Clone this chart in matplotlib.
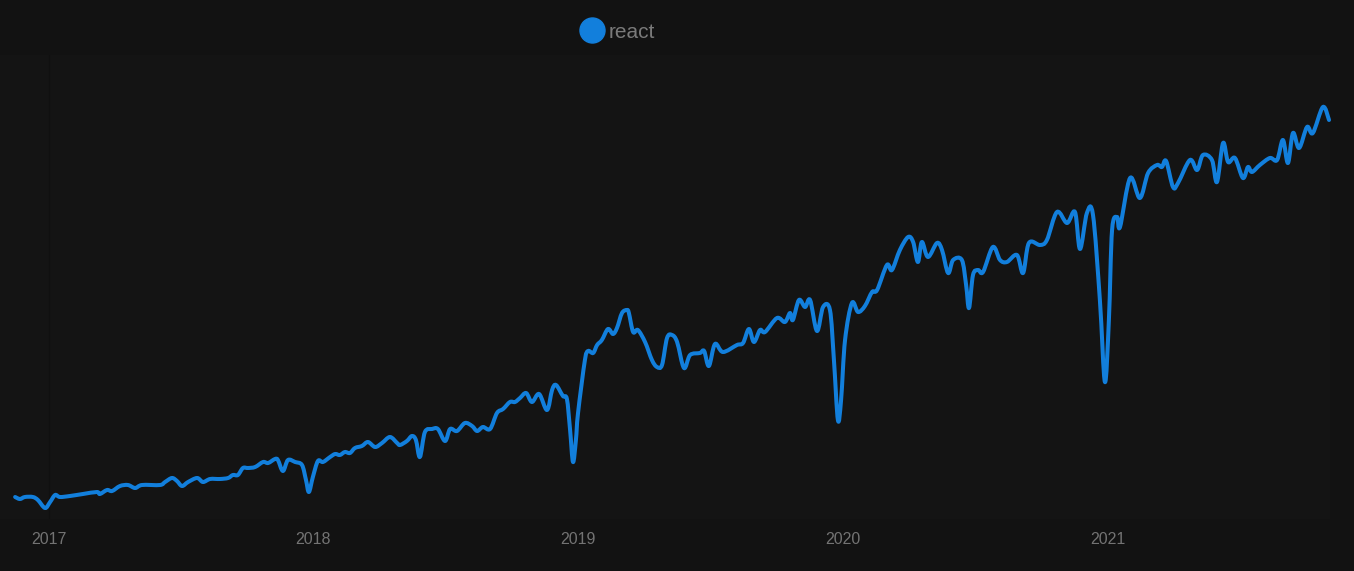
import matplotlib
matplotlib.use("Agg")
import matplotlib.pyplot as plt
import numpy as np
from matplotlib.lines import Line2D
from matplotlib.path import Path
from matplotlib.patches import PathPatch

plt.rcParams['font.family'] = ['Liberation Sans', 'DejaVu Sans']

# --- data (decimal year, weekly downloads in millions) ---
series_name = "react"
years = [
    2016.874, 2016.892, 2016.911, 2016.941, 2016.960, 2016.987, 2017.006, 2017.025, 2017.043, 2017.081,
    2017.130, 2017.183, 2017.194, 2017.221, 2017.240, 2017.270, 2017.300, 2017.327, 2017.353, 2017.421,
    2017.440, 2017.466, 2017.485, 2017.504, 2017.527, 2017.561, 2017.583, 2017.610, 2017.647, 2017.678,
    2017.696, 2017.715, 2017.734, 2017.753, 2017.780, 2017.810, 2017.829, 2017.855, 2017.866, 2017.885,
    2017.904, 2017.931, 2017.957, 2017.972, 2017.983, 2017.998, 2018.017, 2018.036, 2018.063, 2018.082,
    2018.100, 2018.119, 2018.138, 2018.157, 2018.183, 2018.206, 2018.233, 2018.259, 2018.289, 2018.316,
    2018.327, 2018.353, 2018.372, 2018.387, 2018.402, 2018.421, 2018.448, 2018.470, 2018.497, 2018.516,
    2018.542, 2018.572, 2018.599, 2018.618, 2018.640, 2018.667, 2018.693, 2018.716, 2018.742, 2018.761,
    2018.780, 2018.803, 2018.825, 2018.852, 2018.882, 2018.901, 2018.916, 2018.942, 2018.957, 2018.969,
    2018.980, 2018.991, 2018.999, 2019.025, 2019.037, 2019.056, 2019.071, 2019.089, 2019.112, 2019.131,
    2019.146, 2019.165, 2019.184, 2019.191, 2019.207, 2019.225, 2019.252, 2019.278, 2019.297, 2019.316,
    2019.335, 2019.354, 2019.373, 2019.399, 2019.422, 2019.459, 2019.475, 2019.493, 2019.516, 2019.546,
    2019.599, 2019.622, 2019.644, 2019.663, 2019.686, 2019.705, 2019.750, 2019.780, 2019.799, 2019.810,
    2019.833, 2019.856, 2019.875, 2019.901, 2019.924, 2019.950, 2019.965, 2019.980, 2019.992, 2020.007,
    2020.033, 2020.056, 2020.082, 2020.109, 2020.128, 2020.165, 2020.184, 2020.214, 2020.245, 2020.264,
    2020.282, 2020.297, 2020.320, 2020.354, 2020.373, 2020.396, 2020.415, 2020.448, 2020.464, 2020.475,
    2020.490, 2020.509, 2020.528, 2020.565, 2020.592, 2020.618, 2020.656, 2020.679, 2020.701, 2020.743,
    2020.769, 2020.807, 2020.845, 2020.875, 2020.894, 2020.920, 2020.943, 2020.969, 2020.988, 2021.003,
    2021.015, 2021.034, 2021.045, 2021.083, 2021.120, 2021.151, 2021.185, 2021.203, 2021.219, 2021.245,
    2021.264, 2021.309, 2021.336, 2021.358, 2021.392, 2021.411, 2021.434, 2021.453, 2021.479, 2021.509,
    2021.528, 2021.543, 2021.573, 2021.611, 2021.638, 2021.660, 2021.679, 2021.698, 2021.721, 2021.751,
    2021.773, 2021.811, 2021.834,
]
downloads = [
    0.66, 0.60, 0.66, 0.66, 0.57, 0.33, 0.51, 0.72, 0.66, 0.69,
    0.75, 0.81, 0.75, 0.87, 0.84, 0.99, 1.02, 0.93, 1.02, 1.02,
    1.11, 1.23, 1.14, 0.99, 1.11, 1.23, 1.11, 1.20, 1.20, 1.23,
    1.32, 1.32, 1.53, 1.53, 1.56, 1.71, 1.68, 1.80, 1.77, 1.44,
    1.77, 1.71, 1.62, 1.17, 0.81, 1.26, 1.74, 1.71, 1.86, 1.95,
    1.92, 2.01, 1.98, 2.13, 2.19, 2.31, 2.16, 2.28, 2.46, 2.28,
    2.22, 2.34, 2.49, 2.37, 1.86, 2.61, 2.70, 2.70, 2.34, 2.70,
    2.64, 2.88, 2.79, 2.64, 2.76, 2.70, 3.18, 3.30, 3.51, 3.51,
    3.63, 3.78, 3.51, 3.75, 3.27, 3.87, 4.02, 3.69, 3.60, 2.67,
    1.71, 2.37, 3.18, 4.77, 5.04, 4.98, 5.22, 5.37, 5.70, 5.55,
    5.73, 6.18, 6.27, 6.18, 5.61, 5.67, 5.31, 4.77, 4.56, 4.62,
    5.43, 5.52, 5.31, 4.53, 4.92, 4.98, 5.04, 4.59, 5.25, 5.01,
    5.22, 5.28, 5.70, 5.31, 5.67, 5.61, 6.03, 5.91, 6.18, 5.97,
    6.57, 6.36, 6.57, 5.64, 6.36, 6.27, 4.77, 2.97, 3.57, 5.37,
    6.48, 6.21, 6.39, 6.81, 6.87, 7.62, 7.47, 8.07, 8.46, 8.31,
    7.71, 8.31, 7.86, 8.28, 8.07, 7.38, 7.77, 7.77, 7.02, 6.33,
    7.32, 7.47, 7.41, 8.16, 7.77, 7.71, 7.92, 7.38, 8.28, 8.22,
    8.37, 9.21, 8.88, 9.21, 8.10, 9.18, 9.12, 6.57, 4.11, 5.97,
    8.67, 9.06, 8.76, 10.23, 9.63, 10.38, 10.62, 10.56, 10.74, 9.96,
    10.08, 10.77, 10.47, 10.92, 10.77, 10.11, 11.28, 10.71, 10.83, 10.23,
    10.56, 10.41, 10.62, 10.83, 10.77, 11.37, 10.68, 11.58, 11.13, 11.76,
    11.58, 12.36, 11.97,
]
tick_years = [2017, 2018, 2019, 2020, 2021]
tick_labels = ["2017", "2018", "2019", "2020", "2021"]

# --- styling ---
W, H = 1354, 571
fig = plt.figure(figsize=(W / 100, H / 100), dpi=100, facecolor='#121212')
ax = fig.add_axes([0 / W, 1 - 519 / H, 1330 / W, (519 - 55) / H])
ax.set_facecolor('#141414')

line_color = '#127fdc'

# smooth (Catmull-Rom -> cubic Bezier) path through the data points, in data coords
x = np.asarray(years, float)
y = np.asarray(downloads, float)
pts = np.column_stack([x, y])
pp = np.vstack([pts[0], pts, pts[-1]])
verts = [pts[0]]
codes = [Path.MOVETO]
tension = 1 / 6
for i in range(len(pts) - 1):
    p0, p1, p2, p3 = pp[i], pp[i + 1], pp[i + 2], pp[i + 3]
    c1 = p1 + (p2 - p0) * tension
    c2 = p2 - (p3 - p1) * tension
    verts += [c1, c2, p2]
    codes += [Path.CURVE4] * 3
patch = PathPatch(Path(verts, codes), facecolor='none', edgecolor=line_color,
                  lw=2.9, joinstyle='round', capstyle='round', clip_on=False)
ax.add_patch(patch)

ax.axvline(2017, color='#101010', lw=1.0, zorder=0)

ax.set_xlim(2016.8169, 2021.8377)
ax.set_ylim(0, 13.92)
ax.set_xticks(tick_years)
ax.set_xticklabels(tick_labels)
ax.set_yticks([])
ax.tick_params(axis='x', length=0, pad=9.5, labelsize=11.5, labelcolor='#737373')
for s in ax.spines.values():
    s.set_visible(False)

handle = Line2D([], [], marker='o', markersize=18, color=line_color, linestyle='none')
leg = fig.legend(handles=[handle], labels=[series_name], loc='center',
                 bbox_to_anchor=(618 / W, 1 - 32 / H), frameon=False,
                 fontsize=15, labelcolor='#7a7a7a', handlelength=1.0,
                 handletextpad=0.3, borderpad=0)

fig.savefig('out.png', dpi=100, facecolor=fig.get_facecolor())
